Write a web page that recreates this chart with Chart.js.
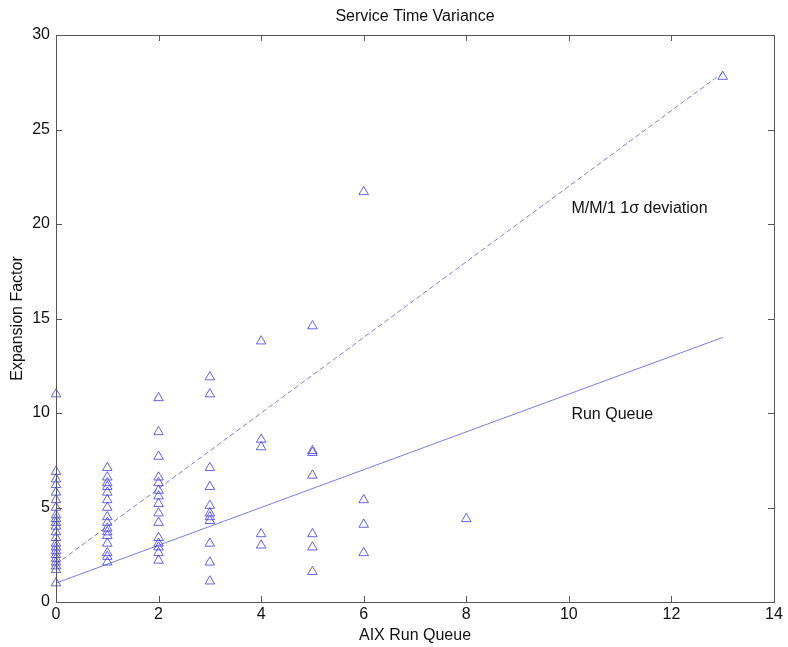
<!DOCTYPE html>
<html>
<head>
<meta charset="utf-8">
<script src="https://cdn.jsdelivr.net/npm/chart.js@4.4.0/dist/chart.umd.min.js"></script>
<style>
  html, body { margin: 0; padding: 0; background: #fff; }
</style>
</head>
<body>
<canvas id="chart" width="788" height="647"></canvas>
<script>
// Expansion factor observations, one array per AIX run queue length
const queue0 = [11.0, 6.9, 6.5, 6.2, 5.8, 5.4, 5.0, 4.6, 4.4, 4.2, 4.0, 3.7, 3.4, 3.1, 2.9, 2.7, 2.5, 2.3, 2.1, 1.9, 1.7, 1.0];
const queue1 = [7.1, 6.6, 6.3, 6.1, 5.8, 5.4, 5.0, 4.5, 4.2, 3.9, 3.7, 3.5, 3.1, 2.6, 2.4, 2.1];
const queue2 = [10.8, 9.0, 7.7, 6.6, 6.3, 5.9, 5.6, 5.2, 4.7, 4.2, 3.4, 3.1, 2.9, 2.6, 2.2];
const queue3 = [11.9, 11.0, 7.1, 6.1, 5.1, 4.7, 4.5, 4.3, 3.1, 2.1, 1.1];
const queue4 = [13.8, 8.6, 8.2, 3.6, 3.0];
const queue5 = [14.6, 8.0, 7.9, 6.7, 3.6, 2.9, 1.6];
const queue6 = [21.7, 5.4, 4.1, 2.6];
const queue8 = [4.4];
const queue13 = [27.8];

// model lines
const lineX = [0, 13];
const runQueueLine = [1, 14];
const mm1Line = [2, 28];

const xTicks = [0, 2, 4, 6, 8, 10, 12, 14];
const yTicks = [0, 5, 10, 15, 20, 25, 30];

const chartTitle = "Service Time Variance";
const notes = [
  { text: "M/M/1 1\u03c3 deviation", x: 10.05, y: 20.8 },
  { text: "Run Queue", x: 10.05, y: 9.9 }
];

const FONT = '"Liberation Sans", Arial, Helvetica, sans-serif';
const markColor = "rgba(50,50,220,0.75)";
const axisColor = "#555";

const groups = [[0, queue0], [1, queue1], [2, queue2], [3, queue3], [4, queue4],
                [5, queue5], [6, queue6], [8, queue8], [13, queue13]];
const points = [];
groups.forEach(([q, vals]) => vals.forEach(v => points.push({ x: q, y: v })));

// box round the plot with inward ticks, the title over the plot and the text notes
const boxTicks = {
  id: "boxTicks",
  afterDraw(chart) {
    const { ctx, chartArea: a, scales: { x, y } } = chart;
    ctx.save();
    ctx.strokeStyle = axisColor;
    ctx.lineWidth = 1;
    ctx.strokeRect(Math.round(a.left) + 0.5, Math.round(a.top) + 0.5,
                   Math.round(a.right - a.left), Math.round(a.bottom - a.top));
    ctx.beginPath();
    xTicks.forEach(v => {
      const px = Math.round(x.getPixelForValue(v)) + 0.5;
      ctx.moveTo(px, a.bottom); ctx.lineTo(px, a.bottom - 6);
      ctx.moveTo(px, a.top); ctx.lineTo(px, a.top + 6);
    });
    yTicks.forEach(v => {
      const py = Math.round(y.getPixelForValue(v)) + 0.5;
      ctx.moveTo(a.left, py); ctx.lineTo(a.left + 6, py);
      ctx.moveTo(a.right, py); ctx.lineTo(a.right - 6, py);
    });
    ctx.stroke();

    ctx.fillStyle = "#111";
    ctx.font = "16px " + FONT;
    ctx.textBaseline = "middle";
    ctx.textAlign = "center";
    ctx.fillText(chartTitle, (a.left + a.right) / 2, a.top - 18);
    ctx.textAlign = "left";
    notes.forEach(n => ctx.fillText(n.text, x.getPixelForValue(n.x), y.getPixelForValue(n.y)));
    ctx.restore();
  }
};

new Chart(document.getElementById("chart"), {
  type: "scatter",
  data: {
    datasets: [
      {
        label: "Observed",
        data: points,
        pointStyle: "triangle",
        pointRadius: 5.5,
        pointBorderWidth: 1,
        borderColor: markColor,
        backgroundColor: "rgba(0,0,0,0)",
        showLine: false,
        clip: false
      },
      {
        label: "Run Queue",
        data: lineX.map((v, i) => ({ x: v, y: runQueueLine[i] })),
        showLine: true,
        borderColor: "rgba(80,80,220,0.75)",
        borderWidth: 1,
        pointRadius: 0
      },
      {
        label: "M/M/1 1 sigma",
        data: lineX.map((v, i) => ({ x: v, y: mm1Line[i] })),
        showLine: true,
        borderColor: "rgba(80,80,220,0.75)",
        borderWidth: 1,
        borderDash: [5, 3],
        pointRadius: 0
      }
    ]
  },
  options: {
    responsive: false,
    animation: false,
    layout: { padding: { left: 0, right: 14, top: 35, bottom: 0 } },
    scales: {
      x: {
        type: "linear",
        min: 0,
        max: 14,
        afterFit: s => { s.height = 45; },
        afterBuildTicks: s => { s.ticks = xTicks.map(v => ({ value: v })); },
        grid: { display: false, drawTicks: false },
        border: { display: false },
        ticks: { color: "#111", font: { family: FONT, size: 16 }, padding: 3, maxRotation: 0 },
        title: { display: true, text: "AIX Run Queue", color: "#111", font: { family: FONT, size: 16 }, padding: { top: 0, bottom: 2 } }
      },
      y: {
        type: "linear",
        min: 0,
        max: 30,
        afterFit: s => { s.width = 56; },
        afterBuildTicks: s => { s.ticks = yTicks.map(v => ({ value: v })); },
        grid: { display: false, drawTicks: false },
        border: { display: false },
        ticks: { color: "#111", font: { family: FONT, size: 16 }, padding: 6 },
        title: { display: true, text: "Expansion Factor", color: "#111", font: { family: FONT, size: 16 }, padding: { top: 8, bottom: 0 } }
      }
    },
    plugins: {
      legend: { display: false },
      tooltip: { enabled: false },
      title: { display: false }
    }
  },
  plugins: [boxTicks]
});
</script>
</body>
</html>
